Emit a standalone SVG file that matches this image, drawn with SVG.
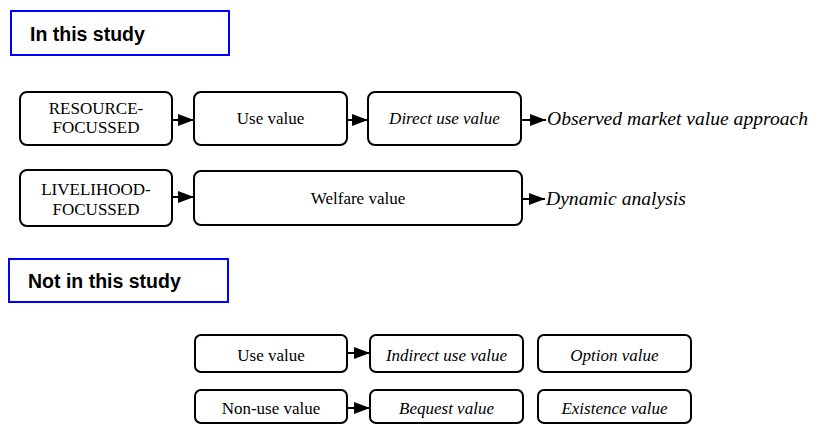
<svg xmlns="http://www.w3.org/2000/svg" width="813" height="425" viewBox="0 0 813 425">
<style>
.box{fill:#fff;stroke:#000;stroke-width:2}
.hdr{fill:#fff;stroke:#0000ff;stroke-width:2}
.ht{font-family:'Liberation Sans',Arial,sans-serif;font-weight:bold;font-size:19.5px;fill:#000}
.t{font-family:'Liberation Serif','Times New Roman','DejaVu Serif',serif;font-size:17px;fill:#000;text-anchor:middle}
.i{font-style:italic}
.out{font-family:'Liberation Serif','Times New Roman','DejaVu Serif',serif;font-style:italic;font-size:19.6px;fill:#000}
.c{stroke:#000;stroke-width:2;fill:none;marker-end:url(#ah)}
</style>
<defs>
<marker id="ah" markerUnits="userSpaceOnUse" markerWidth="16" markerHeight="12" refX="16" refY="6" orient="auto">
<path d="M0,0 L16,6 L0,12 z" fill="#000"/>
</marker>
</defs>
<rect width="813" height="425" fill="#fff"/>
<g id="hdr-in">
<rect class="hdr" x="11" y="11" width="218" height="44"/>
<text class="ht" x="30" y="41">In this study</text>
</g>
<g id="hdr-not">
<rect class="hdr" x="9" y="259" width="219" height="43"/>
<text class="ht" x="28" y="288">Not in this study</text>
</g>
<g id="resource">
<rect class="box" x="20" y="92" width="152" height="53" rx="7"/>
<text class="t" x="96" y="114">RESOURCE-</text>
<text class="t" x="96" y="133">FOCUSSED</text>
</g>
<g id="usevalue1">
<rect class="box" x="194" y="92" width="153" height="53" rx="7"/>
<text class="t" x="270.5" y="124">Use value</text>
</g>
<g id="directuse">
<rect class="box" x="368" y="92" width="153" height="53" rx="7"/>
<text class="t i" x="444.5" y="124">Direct use value</text>
</g>
<g id="observed">
<text class="out" x="547" y="125">Observed market value approach</text>
</g>
<g id="livelihood">
<rect class="box" x="20" y="170" width="152" height="56" rx="7"/>
<text class="t" x="96" y="195">LIVELIHOOD-</text>
<text class="t" x="96" y="215">FOCUSSED</text>
</g>
<g id="welfare">
<rect class="box" x="194" y="171" width="328" height="54" rx="7"/>
<text class="t" x="358" y="204">Welfare value</text>
</g>
<g id="dynamic">
<text class="out" x="546" y="205">Dynamic analysis</text>
</g>
<g id="usevalue2">
<rect class="box" x="195" y="335" width="152" height="37" rx="6"/>
<text class="t" x="271" y="361">Use value</text>
</g>
<g id="indirect">
<rect class="box" x="370" y="335" width="153" height="37" rx="6"/>
<text class="t i" x="446.5" y="361">Indirect use value</text>
</g>
<g id="option">
<rect class="box" x="538" y="335" width="153" height="37" rx="6"/>
<text class="t i" x="614.5" y="361">Option value</text>
</g>
<g id="nonuse">
<rect class="box" x="195" y="390" width="152" height="33" rx="6"/>
<text class="t" x="271" y="414">Non-use value</text>
</g>
<g id="bequest">
<rect class="box" x="370" y="390" width="153" height="33" rx="6"/>
<text class="t i" x="446.5" y="414">Bequest value</text>
</g>
<g id="existence">
<rect class="box" x="538" y="390" width="153" height="33" rx="6"/>
<text class="t i" x="614.5" y="414">Existence value</text>
</g>
<g id="connectors">
<line class="c" x1="172" y1="120" x2="194" y2="120"/>
<line class="c" x1="347" y1="120" x2="368" y2="120"/>
<line class="c" x1="521" y1="120" x2="546" y2="120"/>
<line class="c" x1="172" y1="197" x2="194" y2="197"/>
<line class="c" x1="522" y1="199" x2="545" y2="199"/>
<line class="c" x1="347" y1="353" x2="370" y2="353"/>
<line class="c" x1="347" y1="408" x2="370" y2="408"/>
</g>
</svg>
